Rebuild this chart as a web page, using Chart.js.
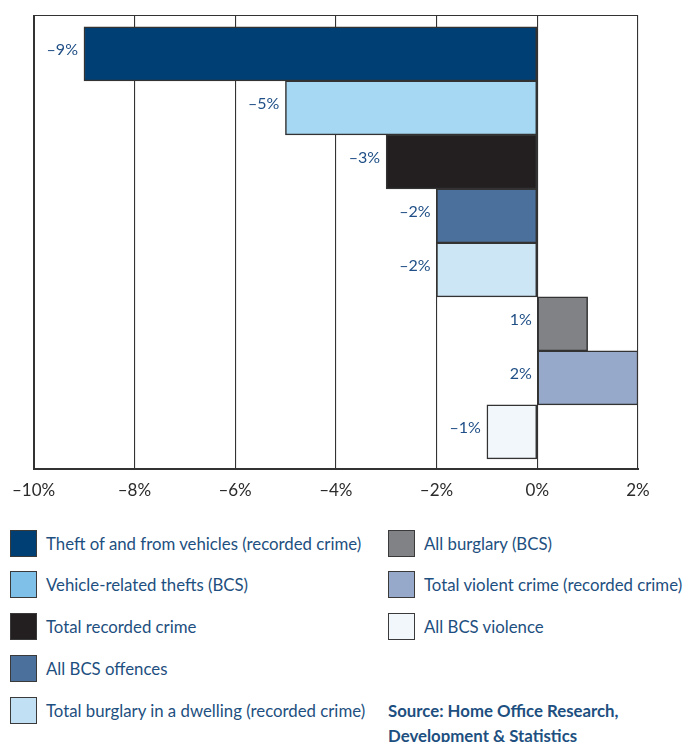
<!DOCTYPE html>
<html>
<head>
<meta charset="utf-8">
<script src="https://cdn.jsdelivr.net/npm/chart.js@4"></script>
<style>
  html, body { margin: 0; padding: 0; background: #fff; }
  body { width: 686px; height: 742px; position: relative; overflow: hidden; font-family: Lato, "Open Sans", sans-serif; }
  #wrap { position: absolute; left: 0; top: 0; width: 686px; height: 515px; }
  .item { position: absolute; height: 28px; display: flex; align-items: center; color: #1d4f80; font-size: 16.8px; white-space: nowrap; }
  .sw { width: 25px; height: 25px; border: 1.5px solid #3a3a3a; margin-right: 9px; flex: none; }
  #source { position: absolute; left: 388px; top: 698px; color: #1d4f80; font-weight: bold; font-size: 16.8px; line-height: 25px; }
</style>
</head>
<body>
<div id="wrap"><canvas id="c"></canvas></div>
<div id="legend"></div>
<div id="source">Source: Home Office Research,<br>Development &amp; Statistics</div>
<script>
const categories = [
  "Theft of and from vehicles (recorded crime)",
  "Vehicle-related thefts (BCS)",
  "Total recorded crime",
  "All BCS offences",
  "Total burglary in a dwelling (recorded crime)",
  "All burglary (BCS)",
  "Total violent crime (recorded crime)",
  "All BCS violence"
];
const values = [-9, -5, -3, -2, -2, 1, 2, -1];
const barColors = ["#003f74", "#a6d8f3", "#231f20", "#4b709c", "#cde6f6", "#808285", "#97a9ca", "#f2f7fc"];
const legendColors = ["#003f74", "#7ec0e8", "#231f20", "#4b709c", "#c2e0f3", "#808285", "#97a9ca", "#f2f7fc"];
const tickValues = [-10, -8, -6, -4, -2, 0, 2];
const tickLabels = ["\u201310%", "\u20138%", "\u20136%", "\u20134%", "\u20132%", "0%", "2%"];

function fmt(v) { return (v < 0 ? "\u2013" : "") + Math.abs(v) + "%"; }

const points = values.map((v, i) => ({ x: v, y: i }));

const framePlugin = {
  id: "frame",
  beforeDatasetsDraw(chart) {
    const { ctx, chartArea: a } = chart;
    ctx.save();
    ctx.strokeStyle = "#333";
    ctx.lineWidth = 1.2;
    ctx.beginPath();
    ctx.moveTo(a.left, a.top + 0.5);
    ctx.lineTo(a.right, a.top + 0.5);
    ctx.stroke();
    ctx.restore();
  }
};

const labelPlugin = {
  id: "barLabels",
  afterDatasetsDraw(chart) {
    const { ctx } = chart;
    const meta = chart.getDatasetMeta(0);
    ctx.save();
    ctx.fillStyle = "#1f4f86";
    ctx.font = "16px Lato, 'Open Sans', sans-serif";
    ctx.textAlign = "right";
    ctx.textBaseline = "middle";
    meta.data.forEach((bar, i) => {
      const left = Math.min(bar.x, bar.base);
      ctx.fillText(fmt(values[i]), left - 6, bar.y - 4);
    });
    ctx.restore();
  }
};

new Chart(document.getElementById("c"), {
  type: "bar",
  data: {
    datasets: [{
      data: points,
      backgroundColor: barColors,
      borderColor: "#333",
      borderWidth: 1.5,
      borderSkipped: false,
      barPercentage: 1,
      categoryPercentage: 1
    }]
  },
  options: {
    indexAxis: "y",
    responsive: true,
    maintainAspectRatio: false,
    animation: false,
    layout: { padding: { left: 33, right: 48, top: 15, bottom: 2 } },
    plugins: { legend: { display: false }, tooltip: { enabled: false } },
    scales: {
      x: {
        type: "linear",
        min: -10, max: 2,
        afterBuildTicks(scale) { scale.ticks = tickValues.map(v => ({ value: v })); },
        ticks: {
          callback: (v) => tickLabels[tickValues.indexOf(v)],
          color: "#2b2b2b",
          font: { family: "Lato, 'Open Sans', sans-serif", size: 17 },
          padding: 12,
          maxRotation: 0
        },
        grid: {
          color: "#333",
          lineWidth: (c) => (c.tick && c.tick.value === -10 ? 2 : 1.1),
          drawTicks: false
        },
        border: { display: true, color: "#333", width: 2 }
      },
      y: {
        type: "linear",
        reverse: true,
        offset: false,
        min: -0.72, max: 7.68,
        afterBuildTicks(scale) { scale.ticks = categories.map((_, i) => ({ value: i })); },
        display: false
      }
    }
  },
  plugins: [framePlugin, labelPlugin]
});

const legend = document.getElementById("legend");
const rowTops = [529, 570, 612, 654, 696];
categories.forEach((name, i) => {
  const col = i < 5 ? 0 : 1;
  const row = i < 5 ? i : i - 5;
  const d = document.createElement("div");
  d.className = "item";
  d.style.left = (col === 0 ? 10 : 388) + "px";
  d.style.top = rowTops[row] + "px";
  d.innerHTML = '<div class="sw" style="background:' + legendColors[i] + '"></div><span>' + name + '</span>';
  legend.appendChild(d);
});
</script>
</body>
</html>
